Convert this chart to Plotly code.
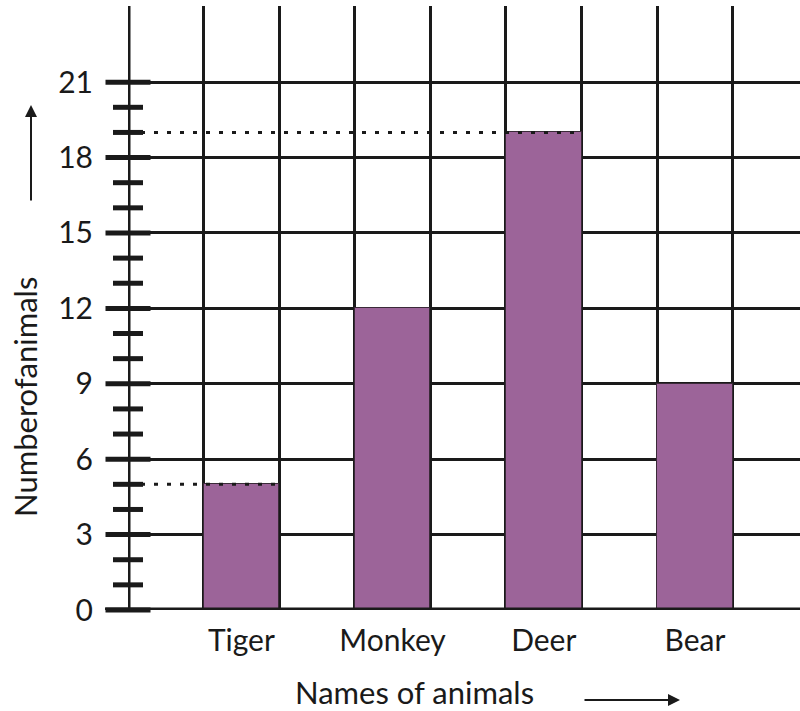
import plotly.graph_objects as go

# ---- data ----
animals = ["Tiger", "Monkey", "Deer", "Bear"]
counts = [5, 12, 19, 9]
highlighted = ["Tiger", "Deer"]          # values marked with dotted guide lines
y_tick_values = [0, 3, 6, 9, 12, 15, 18, 21]
y_tick_labels = ["0", "3", "6", "9", "12", "15", "18", "21"]
x_title = "Names of animals"
y_title = "Numberofanimals"

# ---- styles ----
INK = "#1a1a1a"
BAR = "#9c6499"
FONT = "Lato"
FS_TICK = 30
FS_TITLE = 31

W, H = 800, 711
ML, MR, MT, MB = 128, 0, 6, 101
PW, PH = W - ML - MR, H - MT - MB

# category positions: one empty unit, bar, one empty unit, bar ...
xpos = [2 * i + 1.5 for i in range(len(animals))]
x_max = 8.89
y_max = 24.03

fig = go.Figure()

fig.add_trace(go.Bar(
    x=xpos, y=counts, width=1.0,
    marker=dict(color=BAR, line=dict(color="#3a2a38", width=1)),
    hoverinfo="skip", showlegend=False,
))

# dotted guide lines from the axis to the top of highlighted bars
for name in highlighted:
    i = animals.index(name)
    fig.add_trace(go.Scatter(
        x=[0, xpos[i] + 0.5], y=[counts[i], counts[i]],
        mode="lines", line=dict(color=INK, width=3, dash="4px,9px"),
        hoverinfo="skip", showlegend=False, cliponaxis=False,
    ))

# axis tick marks crossing the y axis (major every 3, minor every 1)
# (plotly draws a line-ew marker 1.4x its size long)
top_tick = y_tick_values[-1]
minor_vals = [v for v in range(0, top_tick + 1) if v % 3 != 0]
fig.add_trace(go.Scatter(
    x=[0] * len(minor_vals), y=minor_vals, mode="markers",
    marker=dict(symbol="line-ew", size=30 / 1.4, line=dict(color=INK, width=5)),
    hoverinfo="skip", showlegend=False, cliponaxis=False,
))
fig.add_trace(go.Scatter(
    x=[0] * len(y_tick_values), y=y_tick_values, mode="markers",
    marker=dict(symbol="line-ew", size=45 / 1.4, line=dict(color=INK, width=5)),
    hoverinfo="skip", showlegend=False, cliponaxis=False,
))

fig.update_xaxes(
    range=[0, x_max], tickmode="array", tickvals=xpos, ticktext=animals,
    showgrid=False, ticks="", ticklabelstandoff=10,
    tickfont=dict(family=FONT, size=FS_TICK, color=INK),
    minor=dict(tick0=0, dtick=1, showgrid=True, gridcolor=INK, gridwidth=2.5),
    zeroline=False, showline=False, fixedrange=True,
)
fig.update_yaxes(
    range=[0, y_max], tickmode="array", tickvals=y_tick_values, ticktext=y_tick_labels,
    showgrid=True, gridcolor=INK, gridwidth=2.5, ticks="",
    ticklabelstandoff=34,
    tickfont=dict(family=FONT, size=FS_TICK, color=INK),
    zeroline=False, showline=False, fixedrange=True,
)

# main axis lines (x = 0 and y = 0)
fig.add_shape(type="line", xref="x", yref="paper", x0=0, x1=0, y0=0, y1=1,
              line=dict(color=INK, width=5), layer="above")
fig.add_shape(type="line", xref="paper", yref="y", x0=(105 - ML) / PW, x1=1, y0=0, y1=0,
              line=dict(color=INK, width=5), layer="above")

def px_x(p):
    return (p - ML) / PW

def px_y(p):
    return (H - MB - p) / PH

# axis titles
fig.add_annotation(text=x_title, xref="paper", yref="paper",
                   x=px_x(414), y=px_y(692), xanchor="center", yanchor="middle",
                   showarrow=False,
                   font=dict(family=FONT, size=FS_TITLE, color=INK))
fig.add_annotation(text=y_title, xref="paper", yref="paper", textangle=-90,
                   x=px_x(25), y=px_y(397), xanchor="center", yanchor="middle",
                   showarrow=False,
                   font=dict(family=FONT, size=FS_TITLE, color=INK))

# direction arrows
fig.add_annotation(text="", xref="paper", yref="paper",
                   x=px_x(31), y=px_y(105), ax=0, ay=97,
                   showarrow=True, arrowhead=2, arrowsize=1.2, arrowwidth=2,
                   arrowcolor=INK)
fig.add_annotation(text="", xref="paper", yref="paper",
                   x=px_x(680), y=px_y(700), ax=-97, ay=0,
                   showarrow=True, arrowhead=2, arrowsize=1.2, arrowwidth=2,
                   arrowcolor=INK)

fig.update_layout(
    width=W, height=H,
    margin=dict(l=ML, r=MR, t=MT, b=MB, autoexpand=False),
    paper_bgcolor="white", plot_bgcolor="white",
    bargap=0, showlegend=False,
)

fig.write_html("out.html", config={"displayModeBar": False},
               post_script="document.body.style.margin='0';document.body.style.overflow='hidden';")
